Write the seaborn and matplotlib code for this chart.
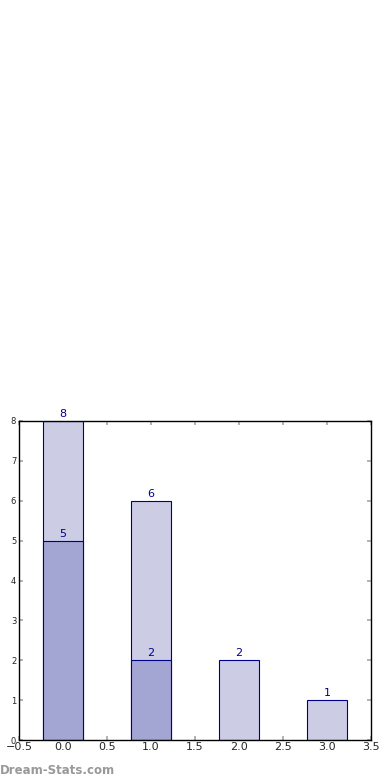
import matplotlib
matplotlib.use("Agg")
import matplotlib.pyplot as plt
import seaborn as sns
import pandas as pd

positions = [0, 1, 2, 3]
totals = [8, 6, 2, 1]
inner = [5, 2, 0, 0]

sns.set_theme(style="white")
plt.rcParams['font.family'] = ['DejaVu Sans']

fig = plt.figure(figsize=(3.9, 7.8), dpi=100)
ax = fig.add_axes([19/390, 40/780, 352/390, 319/780])

df_t = pd.DataFrame({"x": positions, "y": totals})
df_i = pd.DataFrame({"x": positions, "y": inner})

sns.barplot(data=df_t, x="x", y="y", native_scale=True, width=0.45,
            color="#cccce5", edgecolor="#00008b", linewidth=0.8, saturation=1, ax=ax)
sns.barplot(data=df_i[df_i.y > 0], x="x", y="y", native_scale=True, width=0.45,
            color="#a3a5d2", edgecolor="#00008b", linewidth=0.8, saturation=1, ax=ax)

for xv, t in zip(positions, totals):
    ax.text(xv, t + 0.05, str(t), ha="center", va="bottom", color="#00008b", fontsize=8)
for xv, v in zip(positions, inner):
    if v > 0:
        ax.text(xv, v + 0.05, str(v), ha="center", va="bottom", color="#00008b", fontsize=8)

ax.set_xlim(-0.5, 3.5)
ax.set_ylim(0, 8)
ax.set_xticks([-0.5, 0, 0.5, 1, 1.5, 2, 2.5, 3, 3.5])
ax.set_xticklabels(["\u22120.5", "0.0", "0.5", "1.0", "1.5", "2.0", "2.5", "3.0", "3.5"])
ax.set_yticks(range(0, 9))
ax.set_xlabel("")
ax.set_ylabel("")
ax.tick_params(axis="x", labelsize=8, direction="in", length=3, color="#aaaaaa",
               top=True, bottom=True, pad=1.5)
ax.tick_params(axis="y", labelsize=6, direction="in", length=3, color="#aaaaaa",
               left=True, right=True, pad=2)
for s in ax.spines.values():
    s.set_color("black")
    s.set_linewidth(1)
    s.set_visible(True)

fig.text(0/390, 1 - 770/780, "Dream-Stats.com", color="#999999", fontsize=8.5,
         fontweight="bold", ha="left", va="center")

fig.savefig("out.png", dpi=100)
